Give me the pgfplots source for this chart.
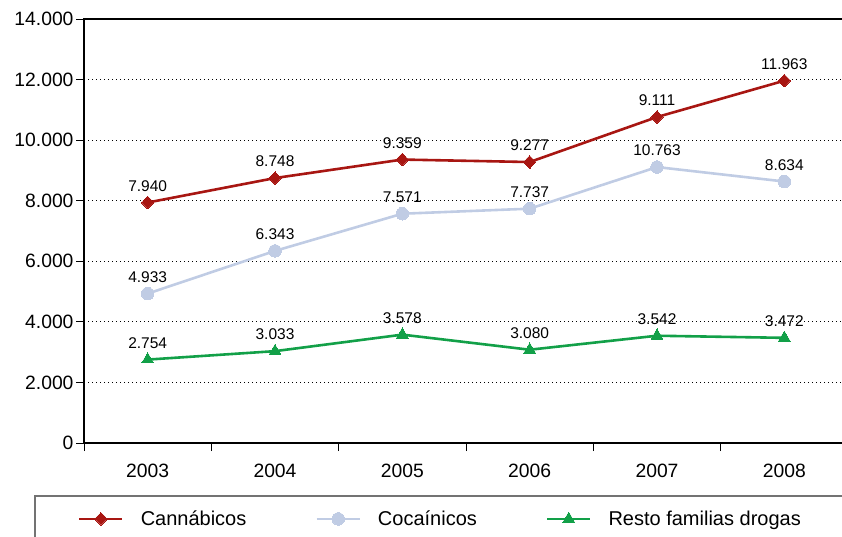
\documentclass[border=0pt]{standalone}
\usepackage{fontspec}
\setmainfont{Liberation Sans}
\usepackage{pgfplots}
\pgfplotsset{compat=1.18}
\definecolor{cRed}{RGB}{168,22,18}
\definecolor{cBlue}{RGB}{192,204,228}
\definecolor{cGreen}{RGB}{18,160,72}
\begin{document}
\begin{tikzpicture}[x=1pt,y=1pt]
\useasboundingbox (0,0) rectangle (842,536);
\clip (0,0) rectangle (842,536);
\begin{axis}[
  at={(84pt,93pt)}, anchor=south west,
  scale only axis, width=764pt, height=424pt,
  xmin=2002.5, xmax=2008.5, ymin=0, ymax=14000,
  scaled y ticks=false,
  xtick={2003,2004,2005,2006,2007,2008},
  xticklabels={2003,2004,2005,2006,2007,2008},
  major x tick style={draw=none},
  minor xtick={2002.5,2003.5,2004.5,2005.5,2006.5,2007.5,2008.5},
  minor tick length=8pt,
  minor x tick style={black, line width=0.9pt},
  ytick={0,2000,4000,6000,8000,10000,12000,14000},
  yticklabels={0,2.000,4.000,6.000,8.000,10.000,12.000,14.000},
  major tick length=8pt,
  tick align=outside,
  xtick pos=bottom, ytick pos=left,
  ytick style={black, line width=0.9pt},
  ymajorgrids,
  major grid style={black, line width=0.8pt, dash pattern=on 1pt off 3pt},
  axis line style={black, line width=1.2pt},
  ticklabel style={font=\fontsize{19.3}{22}\selectfont},
  xticklabel style={yshift=-9pt},
  yticklabel style={xshift=1pt},
  nodes near coords,
  point meta=explicit symbolic,
  every node near coord/.append style={font=\fontsize{15.5}{18}\selectfont, black, yshift=8pt},
  legend columns=3,
  legend cell align=left,
  legend style={draw=none, fill=none, inner xsep=0pt, inner ysep=0pt,
    at={(-0.0079,-0.179)}, anchor=west,
    font=\fontsize{20}{23}\selectfont,
    nodes={inner sep=2pt},
    /tikz/every odd column/.append style={column sep=15pt},
    /tikz/every even column/.append style={column sep=67pt}},
  legend image code/.code={\draw[mark repeat=2,mark phase=2,#1] plot coordinates {(0pt,0pt) (21.5pt,0pt) (43pt,0pt)};},
]
\addplot[cRed, line width=2.6pt, mark=diamond*, mark size=6.3pt, mark options={solid, line width=0pt, xscale=1.3}] table[meta=label] {
x y label
2003 7940 7.940
2004 8748 8.748
2005 9359 9.359
2006 9277 9.277
2007 10763 9.111
2008 11963 11.963
};
\addlegendentry{Cannábicos}
\addplot[cBlue, line width=2.6pt, mark=*, mark size=6.3pt, mark options={solid, line width=0pt}] table[meta=label] {
x y label
2003 4933 4.933
2004 6343 6.343
2005 7571 7.571
2006 7737 7.737
2007 9111 10.763
2008 8634 8.634
};
\addlegendentry{Cocaínicos}
\addplot[cGreen, line width=2.6pt, mark=triangle*, mark size=6.8pt, mark options={solid, line width=0pt}] table[meta=label] {
x y label
2003 2754 2.754
2004 3033 3.033
2005 3578 3.578
2006 3080 3.080
2007 3542 3.542
2008 3472 3.472
};
\addlegendentry{Resto familias drogas}
\end{axis}
\draw[black!55, line width=1.3pt] (35,40) rectangle (900,-20);
\end{tikzpicture}
\end{document}
